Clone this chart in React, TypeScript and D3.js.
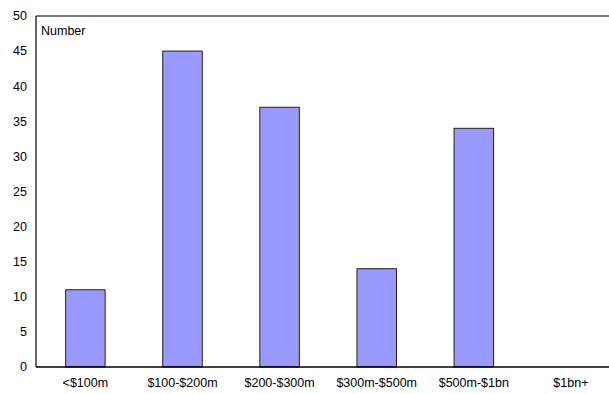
import React from "react";
import * as d3 from "d3";

const categories = ["<$100m", "$100-$200m", "$200-$300m", "$300m-$500m", "$500m-$1bn", "$1bn+"];
const values = [11, 45, 37, 14, 34, 0];
const yTicks = [0, 5, 10, 15, 20, 25, 30, 35, 40, 45, 50];

export default function App() {
  const W = 609, H = 394;
  const left = 36, top = 16, bottom = 367, right = 620.3;
  const x = d3.scaleBand<string>().domain(categories).range([left, right]).paddingInner(0.593).paddingOuter(0.305);
  const y = d3.scaleLinear().domain([0, 50]).range([bottom, top]);
  const font = "'Liberation Sans', Arial, sans-serif";
  return (
    <svg width={W} height={H} style={{ position: "absolute", left: 0, top: 0 }} fontFamily={font}>
      <rect width={W} height={H} fill="#fff" />
      {categories.map((c, i) =>
        values[i] > 0 ? (
          <rect key={c} x={x(c)!} y={y(values[i])} width={x.bandwidth()} height={bottom - y(values[i])}
            fill="#9999ff" stroke="#222" strokeWidth={1} />
        ) : null
      )}
      <line x1={left} x2={W} y1={top} y2={top} stroke="#000" strokeWidth={1.2} />
      <line x1={left} x2={left} y1={top} y2={bottom} stroke="#000" strokeWidth={1.2} />
      <line x1={left} x2={W} y1={bottom} y2={bottom} stroke="#000" strokeWidth={1.6} />
      {yTicks.map((t) => (
        <text key={t} x={27} y={y(t)} dy="0.35em" textAnchor="end" fontSize={12.5} fill="#000">{t}</text>
      ))}
      {categories.map((c) => (
        <text key={c} x={x(c)! + x.bandwidth() / 2} y={387} textAnchor="middle" fontSize={12.5} fill="#000">{c}</text>
      ))}
      <text x={41} y={35} fontSize={12.5} fill="#000">Number</text>
    </svg>
  );
}
